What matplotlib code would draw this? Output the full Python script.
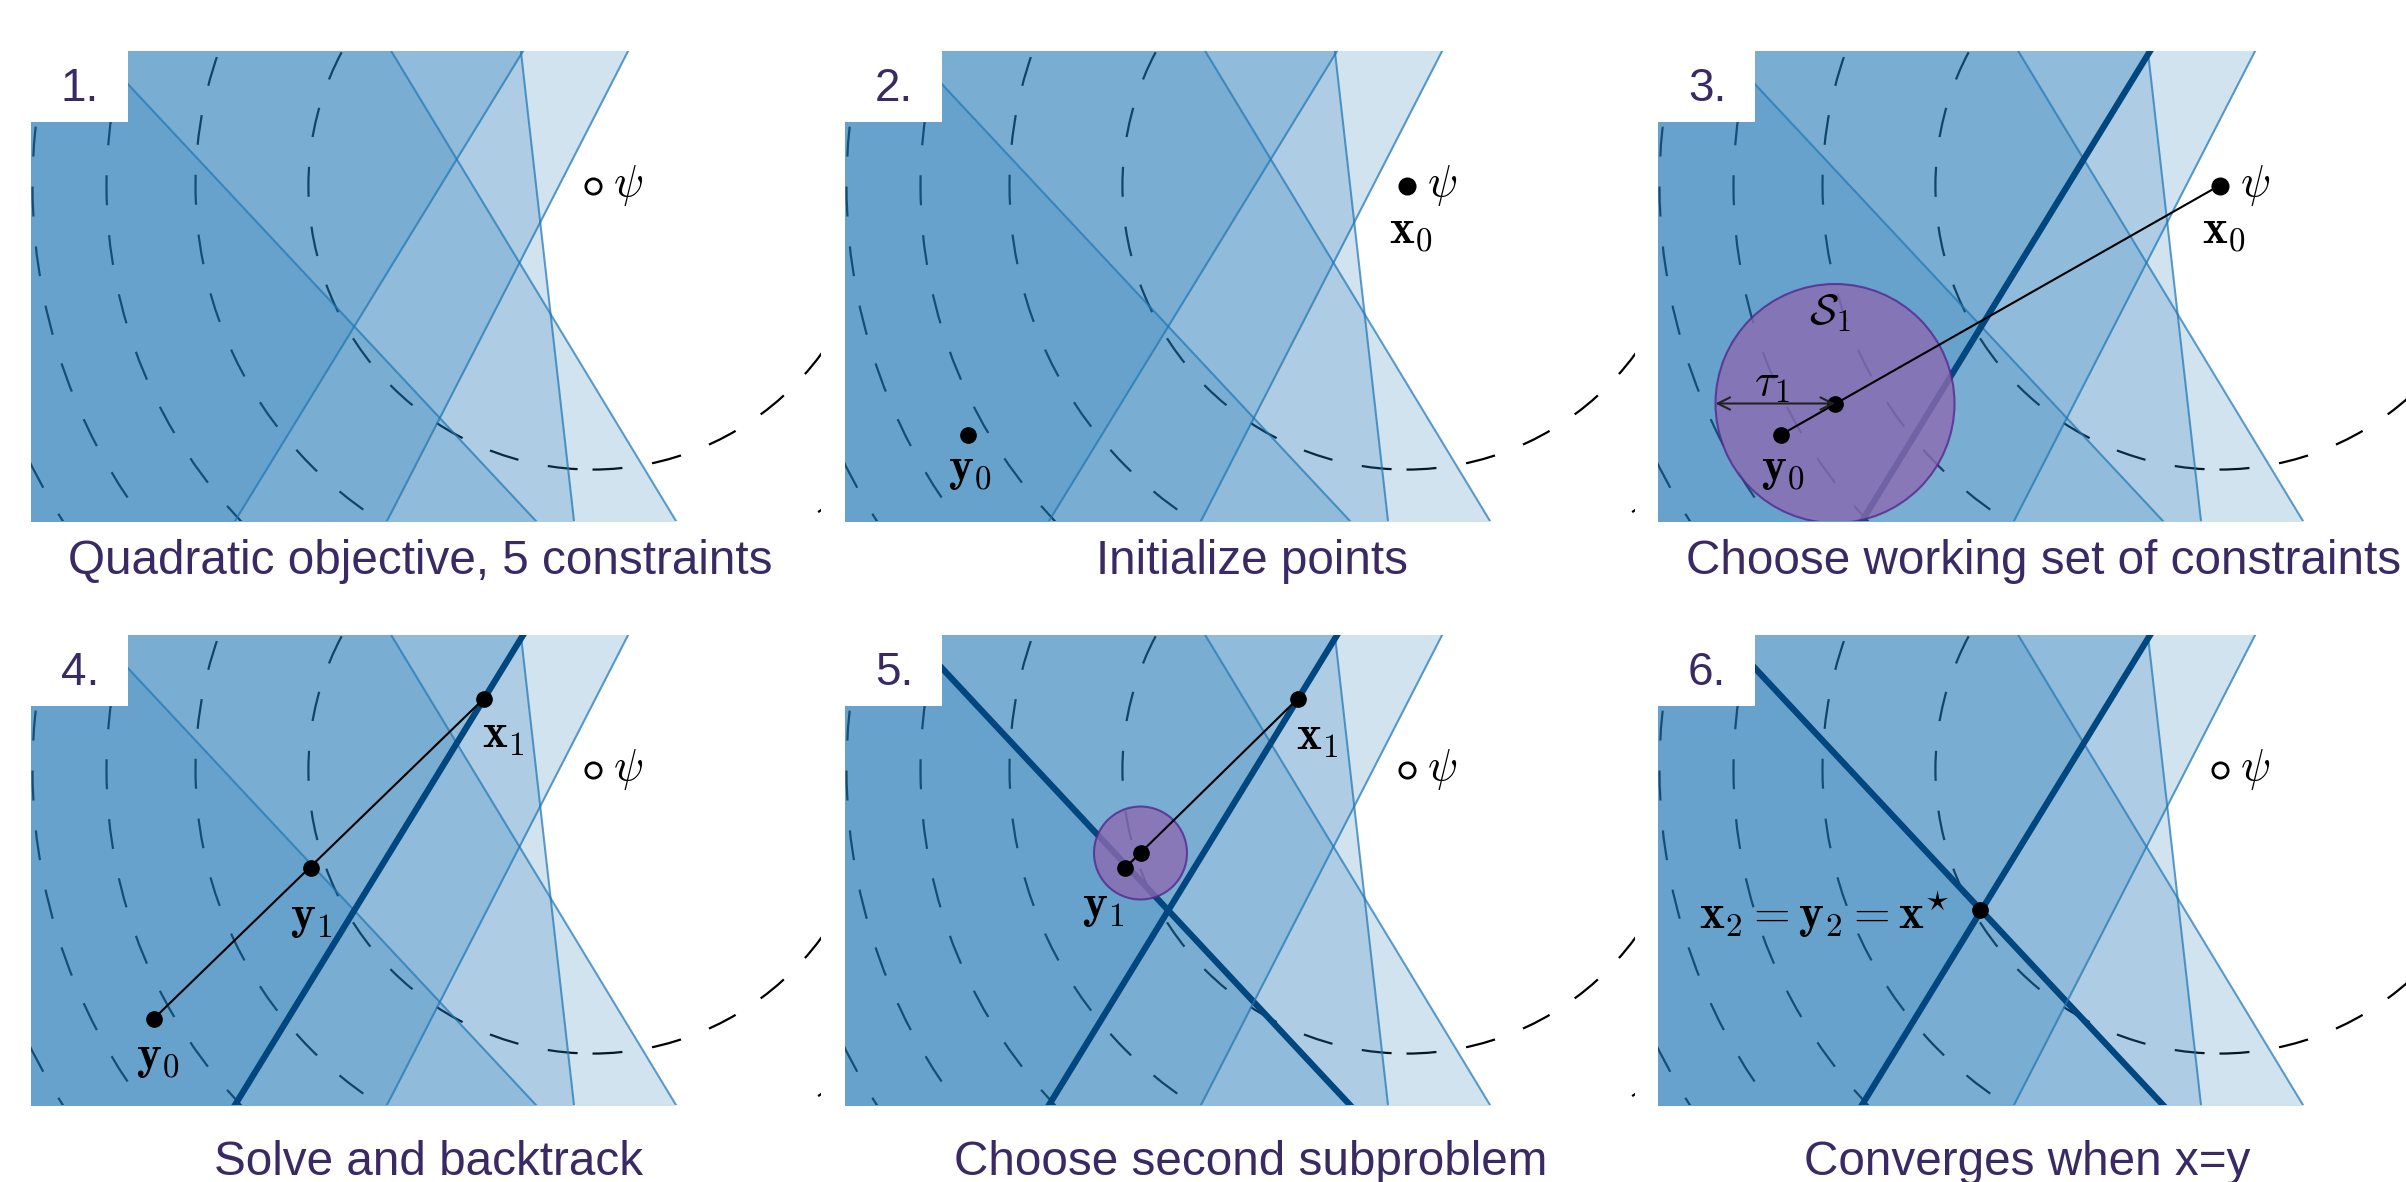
import numpy as np
import matplotlib.pyplot as plt
from matplotlib.patches import Circle, Rectangle

plt.rcParams['mathtext.fontset'] = 'cm'
plt.rcParams['font.family'] = ['Liberation Sans', 'DejaVu Sans']

W, H = 2406, 1182
purple_text = '#3a2a64'
active_color = '#00467f'

# constraint boundaries: x where each line crosses y=0, and its slope dx/dy
edge_x0 = [5.05, 6.45, 5.43, 2.04, 3.56]
edge_dxdy = [-0.934, -0.606, -0.113, 0.613, 0.513]

# quadratic objective centred on psi, contour levels of ||x - psi||^2
psi = (5.615, 3.355)
objective_levels = [8.07, 15.76, 23.62, 31.36, 39.31]

# iterates
y0 = (1.225, 0.86)
x1 = (4.525, 4.06)
y1 = (2.80, 2.37)
x_star = (3.22, 1.95)
sub1_center, tau1 = (1.77, 1.175), 1.195
sub2_center, tau2 = (2.955, 2.52), 0.465

titles = ['Quadratic objective, 5 constraints', 'Initialize points',
          'Choose working set of constraints', 'Solve and backtrack',
          'Choose second subproblem', 'Converges when x=y']
title_cx = [420, 1252, 2044, 429, 1251, 2027]
title_base = [574, 574, 574, 1175, 1175, 1175]

col_left = [31, 845, 1658]
row_top = [51, 635]
ax_w, ax_h = 790, 470
xlim, ylim = 7.9, 4.7

fig = plt.figure(figsize=(W / 100, H / 100), dpi=100)


def base_panel(ax, num, active):
    ax.set_xlim(0, xlim)
    ax.set_ylim(0, ylim)
    ax.axis('off')
    for lev in objective_levels:
        ax.add_patch(Circle(psi, np.sqrt(lev), fill=False, ec='k', lw=1.6,
                            ls=(0, (13.5, 13.5)), zorder=1))
    yy = np.array([-1.0, ylim + 1.0])
    for i, (x0, s) in enumerate(zip(edge_x0, edge_dxdy)):
        xx = x0 + s * yy
        ax.fill_betweenx(yy, -1, xx, color='C0', alpha=0.2, lw=0, zorder=2)
        if i in active:
            ax.plot(xx, yy, color=active_color, lw=4.5, zorder=3)
        else:
            ax.plot(xx, yy, color='C0', alpha=0.7, lw=1.5, zorder=3)
    ax.add_patch(Rectangle((-0.1, ylim - 0.71), 1.07, 0.9, fc='white', ec='none',
                           zorder=10, clip_on=False))
    ax.text(0.30, ylim - 0.50, f'{num}.', fontsize=33, color=purple_text,
            ha='left', va='baseline', zorder=11)


def dot(ax, p, ms=11):
    ax.plot(*p, 'o', color='k', ms=ms, zorder=6)


def label(ax, txt, p, dx, dy, ha='center', va='top', fs=34):
    ax.annotate(txt, p, xytext=(dx, dy), textcoords='offset points',
                fontsize=fs, ha=ha, va=va, zorder=7)


def psi_label(ax):
    label(ax, r'$\psi$', psi, 15, 0, ha='left', va='center', fs=32)


def open_psi(ax):
    ax.plot(*psi, 'o', mfc='white', mec='k', mew=2, ms=11, zorder=6)
    psi_label(ax)


axes = []
for r in range(2):
    for c in range(3):
        left = col_left[c] / W
        bottom = 1 - (row_top[r] + ax_h) / H
        axes.append(fig.add_axes([left, bottom, ax_w / W, ax_h / H]))

# 1. problem setup
ax = axes[0]
base_panel(ax, 1, [])
open_psi(ax)

# 2. initial points
ax = axes[1]
base_panel(ax, 2, [])
dot(ax, psi, 12)
psi_label(ax)
label(ax, r'$\mathbf{x}_0$', psi, 3, -17)
dot(ax, y0)
label(ax, r'$\mathbf{y}_0$', y0, 2, -9)

# 3. working set and first subproblem
ax = axes[2]
base_panel(ax, 3, [3])
ax.add_patch(Circle(sub1_center, tau1, fc='#8c6bb1', ec='#54278f', lw=1.5,
                    alpha=0.8, zorder=4))
ax.plot([y0[0], psi[0]], [y0[1], psi[1]], color='k', lw=1.5, zorder=5)
dot(ax, psi, 12)
psi_label(ax)
label(ax, r'$\mathbf{x}_0$', psi, 3, -17)
dot(ax, y0)
label(ax, r'$\mathbf{y}_0$', y0, 2, -9)
dot(ax, sub1_center)
ax.annotate('', xy=(sub1_center[0] - tau1, sub1_center[1]), xytext=sub1_center,
            arrowprops=dict(arrowstyle='<->', color='#222222', lw=1.5,
                            shrinkA=0, shrinkB=0, mutation_scale=22), zorder=6)
ax.text(sub1_center[0] - 0.63, sub1_center[1] + 0.20, r'$\tau_1$', fontsize=33,
        ha='center', va='center', zorder=7)
ax.text(sub1_center[0] - 0.05, sub1_center[1] + 0.90, r'$\mathcal{S}_1$', fontsize=31,
        ha='center', va='center', zorder=7)

# 4. solve and backtrack
ax = axes[3]
base_panel(ax, 4, [3])
open_psi(ax)
ax.plot([y0[0], x1[0]], [y0[1], x1[1]], color='k', lw=1.5, zorder=5)
for p in (y0, y1, x1):
    dot(ax, p)
label(ax, r'$\mathbf{x}_1$', x1, -1, -11, ha='left')
label(ax, r'$\mathbf{y}_1$', y1, 0, -20)
label(ax, r'$\mathbf{y}_0$', y0, 3, -12)

# 5. second subproblem
ax = axes[4]
base_panel(ax, 5, [0, 3])
open_psi(ax)
ax.add_patch(Circle(sub2_center, tau2, fc='#8c6bb1', ec='#54278f', lw=1.5,
                    alpha=0.8, zorder=4))
ax.plot([y1[0], x1[0]], [y1[1], x1[1]], color='k', lw=1.5, zorder=5)
for p in (y1, sub2_center, x1):
    dot(ax, p)
label(ax, r'$\mathbf{x}_1$', x1, -1, -12, ha='left')
label(ax, r'$\mathbf{y}_1$', y1, 0, -12, ha='right')

# 6. converged
ax = axes[5]
base_panel(ax, 6, [0, 3])
open_psi(ax)
dot(ax, x_star)
label(ax, r'$\mathbf{x}_2 = \mathbf{y}_2 = \mathbf{x}^{\star}$', x_star, -22, -14,
      ha='right', va='baseline')

for t, cx, base in zip(titles, title_cx, title_base):
    fig.text(cx / W, 1 - base / H, t, fontsize=34.3, color=purple_text,
             ha='center', va='baseline')

fig.savefig('out.png', dpi=100, facecolor='white')
